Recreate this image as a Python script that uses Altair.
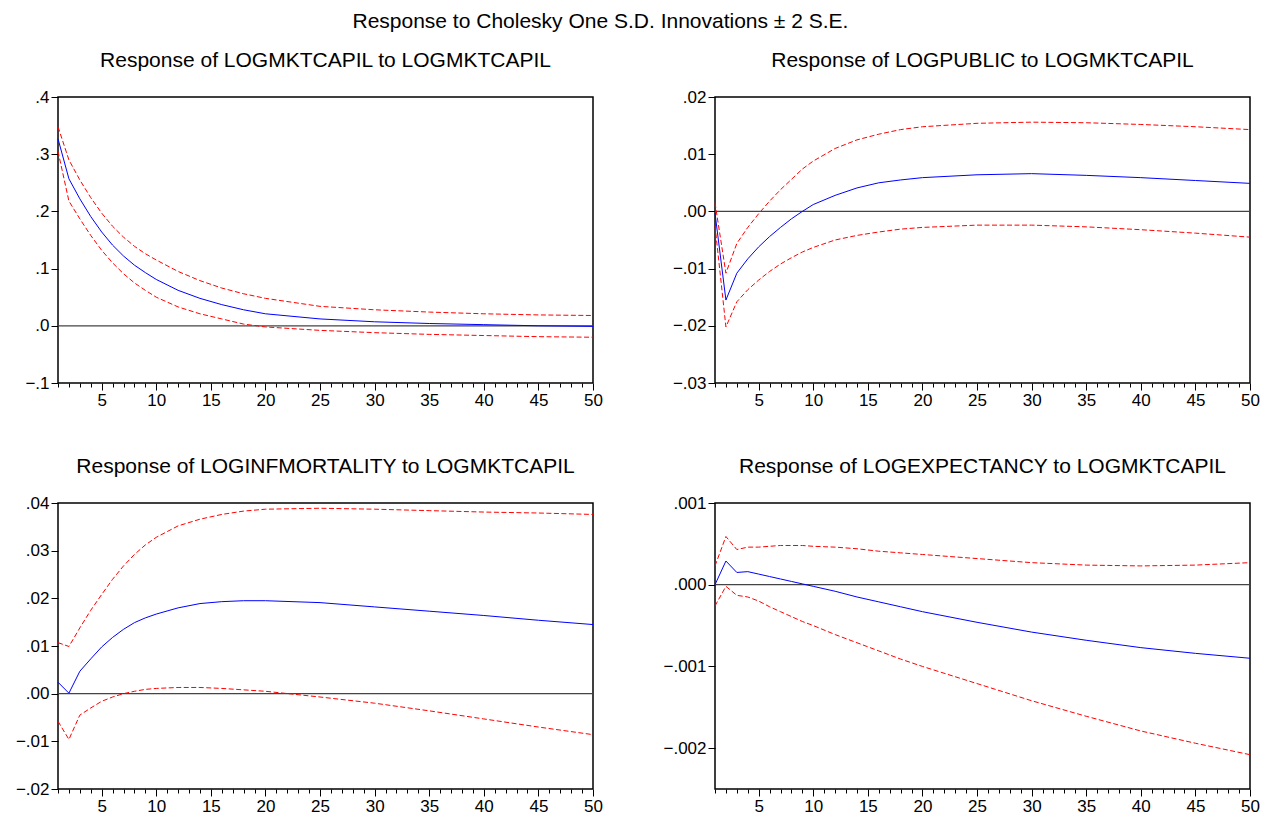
import altair as alt
import pandas as pd

PERIODS = [1, 2, 3, 4, 5, 6, 7, 8, 9, 10, 12, 14, 16, 18, 20, 25, 30, 35, 40, 45, 50]

# Response of LOGMKTCAPIL to LOGMKTCAPIL
P1_RESP = [0.327, 0.257, 0.222, 0.191, 0.164, 0.141, 0.122, 0.106, 0.093, 0.081, 0.062, 0.048, 0.037,
           0.028, 0.021, 0.012, 0.007, 0.004, 0.002, 0.000, -0.001]
P1_UP = [0.348, 0.290, 0.255, 0.224, 0.197, 0.174, 0.155, 0.139, 0.126, 0.115, 0.095, 0.079, 0.066,
         0.056, 0.048, 0.034, 0.028, 0.024, 0.021, 0.019, 0.018]
P1_LO = [0.305, 0.218, 0.187, 0.158, 0.132, 0.110, 0.091, 0.075, 0.062, 0.050, 0.033, 0.021, 0.012,
         0.003, -0.002, -0.008, -0.012, -0.015, -0.017, -0.019, -0.020]

# Response of LOGPUBLIC to LOGMKTCAPIL
P2_RESP = [-0.0003, -0.0155, -0.0108, -0.0083, -0.0062, -0.0044, -0.0028, -0.0013, 0.0000, 0.0012, 0.0028,
           0.0041, 0.0050, 0.0055, 0.0059, 0.0064, 0.0066, 0.0063, 0.0059, 0.0054, 0.0049]
P2_UP = [0.0015, -0.0108, -0.0056, -0.0028, -0.0004, 0.0018, 0.0038, 0.0056, 0.0074, 0.0088, 0.0110,
         0.0125, 0.0135, 0.0143, 0.0148, 0.0154, 0.0156, 0.0155, 0.0152, 0.0148, 0.0143]
P2_LO = [-0.0025, -0.0202, -0.0158, -0.0137, -0.0120, -0.0105, -0.0092, -0.0081, -0.0071, -0.0063, -0.0050,
         -0.0042, -0.0036, -0.0031, -0.0028, -0.0024, -0.0024, -0.0027, -0.0032, -0.0038, -0.0045]

# Response of LOGINFMORTALITY to LOGMKTCAPIL
P3_RESP = [0.0024, 0.0001, 0.0047, 0.0073, 0.0098, 0.0118, 0.0135, 0.0149, 0.0159, 0.0167, 0.0180,
           0.0189, 0.0193, 0.0195, 0.0195, 0.0191, 0.0182, 0.0173, 0.0164, 0.0154, 0.0145]
P3_UP = [0.0107, 0.0099, 0.0138, 0.0175, 0.0208, 0.0240, 0.0268, 0.0292, 0.0312, 0.0328, 0.0352,
         0.0366, 0.0376, 0.0383, 0.0387, 0.0389, 0.0387, 0.0384, 0.0381, 0.0379, 0.0376]
P3_LO = [-0.0058, -0.0096, -0.0045, -0.0030, -0.0016, -0.0007, 0.0000, 0.0005, 0.0009, 0.0011, 0.0013,
         0.0013, 0.0011, 0.0008, 0.0005, -0.0007, -0.0020, -0.0036, -0.0053, -0.0070, -0.0086]

# Response of LOGEXPECTANCY to LOGMKTCAPIL
P4_RESP = [0.0, 0.00029, 0.00015, 0.00016, 0.00013, 0.00010, 0.00007, 0.00004, 0.00001, -0.00002, -0.00008,
           -0.00015, -0.00021, -0.00027, -0.00033, -0.00046, -0.00058, -0.00068, -0.00077, -0.00084, -0.00090]
P4_UP = [0.00023, 0.00059, 0.00043, 0.00046, 0.00046, 0.00047, 0.00048, 0.00048, 0.00048, 0.00047, 0.00046,
         0.00044, 0.00041, 0.00039, 0.00037, 0.00032, 0.00027, 0.00024, 0.00023, 0.00024, 0.00027]
P4_LO = [-0.00026, -0.00002, -0.00013, -0.00015, -0.00020, -0.00027, -0.00033, -0.00039, -0.00045, -0.00050,
         -0.00061, -0.00071, -0.00081, -0.00091, -0.00100, -0.00121, -0.00142, -0.00161, -0.00179, -0.00194, -0.00208]

MAIN_TITLE = "Response to Cholesky One S.D. Innovations \u00b1 2 S.E."
TITLES = [
    "Response of LOGMKTCAPIL to LOGMKTCAPIL",
    "Response of LOGPUBLIC to LOGMKTCAPIL",
    "Response of LOGINFMORTALITY to LOGMKTCAPIL",
    "Response of LOGEXPECTANCY to LOGMKTCAPIL",
]
X_TICKS = list(range(1, 51))

FONT = "Liberation Sans"
W, H = 535, 286


def panel(title, resp, upper, lower, ydom, yticks, fmt):
    n = len(PERIODS)
    df = pd.DataFrame({
        "period": PERIODS * 3,
        "value": resp + upper + lower,
        "series": ["resp"] * n + ["upper"] * n + ["lower"] * n,
    })
    x = alt.X(
        "period:Q",
        scale=alt.Scale(domain=[1, 50], nice=False, zero=False),
        axis=alt.Axis(
            values=X_TICKS,
            tickSize={"condition": {"test": "datum.value % 5 === 0", "value": 7}, "value": 4},
            labelExpr="datum.value % 5 === 0 ? datum.label : ''",
            labelOverlap=False,
            labelFlush=False,
            domain=False,
            grid=False,
            title=None,
            labelFont=FONT,
            labelFontSize=17,
            labelColor="black",
            labelPadding=2,
            tickColor="black",
            tickWidth=1,
        ),
    )
    y = alt.Y(
        "value:Q",
        scale=alt.Scale(domain=ydom, nice=False, zero=False),
        axis=alt.Axis(
            values=yticks,
            labelExpr=f"replace(format(datum.value, '{fmt}'), '0.', '.')",
            tickSize=7,
            domain=False,
            grid=False,
            title=None,
            labelFont=FONT,
            labelFontSize=17,
            labelColor="black",
            labelPadding=2,
            tickColor="black",
            tickWidth=1,
        ),
    )
    zero = alt.Chart(pd.DataFrame({"value": [0.0]})).mark_rule(
        color="#444444", strokeWidth=1.2
    ).encode(y=y)
    bands = alt.Chart(df).transform_filter("datum.series !== 'resp'").mark_line(
        color="#ff0000", strokeWidth=1, strokeDash=[5, 2.5]
    ).encode(x=x, y=y, detail="series:N")
    line = alt.Chart(df).transform_filter("datum.series === 'resp'").mark_line(
        color="#0000ff", strokeWidth=1
    ).encode(x=x, y=y)
    return alt.layer(zero, bands, line).properties(
        width=W,
        height=H,
        title=alt.TitleParams(
            text=title, font=FONT, fontSize=21, fontWeight="normal", color="black",
            anchor="middle", baseline="alphabetic", offset=0,
        ),
    )


p1 = panel(TITLES[0], P1_RESP, P1_UP, P1_LO, [-0.1, 0.4], [-0.1, 0.0, 0.1, 0.2, 0.3, 0.4], ".1f")
p2 = panel(TITLES[1], P2_RESP, P2_UP, P2_LO, [-0.03, 0.02], [-0.03, -0.02, -0.01, 0.0, 0.01, 0.02], ".2f")
p3 = panel(TITLES[2], P3_RESP, P3_UP, P3_LO, [-0.02, 0.04],
           [-0.02, -0.01, 0.0, 0.01, 0.02, 0.03, 0.04], ".2f")
p4 = panel(TITLES[3], P4_RESP, P4_UP, P4_LO, [-0.0025, 0.001], [-0.002, -0.001, 0.0, 0.001], ".3f")

chart = alt.concat(
    p1, p2, p3, p4,
    columns=2,
    spacing=alt.RowColnumber(row=120, column=122),
    bounds="flush",
    title=alt.TitleParams(
        text=MAIN_TITLE, font=FONT, fontSize=21, fontWeight="normal", color="black",
        anchor="middle", dx=-37, offset=17,
    ),
).properties(
    padding={"left": 6, "top": 3, "right": 5, "bottom": 2},
    background="white",
).configure_view(
    stroke="black", strokeWidth=1.5
)

chart.save("out.html", embed_options={"renderer": "svg", "actions": False})
